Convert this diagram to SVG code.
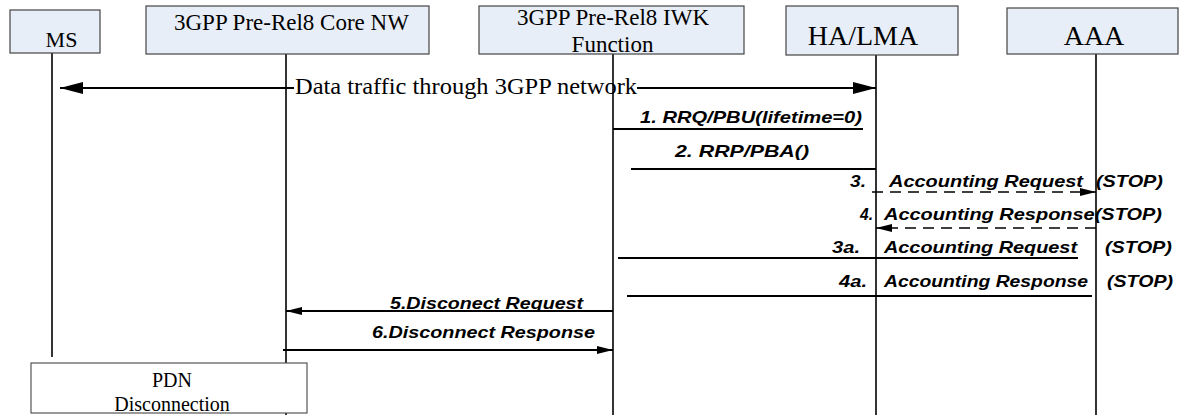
<svg xmlns="http://www.w3.org/2000/svg" width="1179" height="415" viewBox="0 0 1179 415">
<style>
.hdr{fill:#E8EEF7;stroke:#444;stroke-width:1.2}
.t{font-family:"Liberation Serif","Times New Roman",serif;fill:#000}
.lab{font-family:"Liberation Sans",Arial,sans-serif;font-weight:bold;font-style:italic;font-size:17px;fill:#000}
.life{stroke:#000;stroke-width:1.6;fill:none}
.msg{stroke:#000;stroke-width:1.8;fill:none}
.dash{stroke:#000;stroke-width:1.6;fill:none;stroke-dasharray:11,7}
</style>
<defs>
<marker id="ah" markerUnits="userSpaceOnUse" markerWidth="16" markerHeight="8" refX="16" refY="4" orient="auto"><path d="M0,0 L16,4 L0,8 z" fill="#000"/></marker>
<marker id="big" markerUnits="userSpaceOnUse" markerWidth="23" markerHeight="12" refX="23" refY="6" orient="auto"><path d="M0,0 L23,6 L0,12 z" fill="#000"/></marker>
</defs>
<g id="lifelines">
<line class="life" x1="52" y1="53" x2="52" y2="357"/>
<line class="life" x1="286" y1="54" x2="286" y2="415"/>
<line class="life" x1="613" y1="54" x2="613" y2="415"/>
<line class="life" x1="876" y1="55" x2="876" y2="415"/>
<line class="life" x1="1096" y1="54" x2="1096" y2="415"/>
</g>
<g id="node-ms"><rect class="hdr" x="10" y="10" width="90" height="43"/><text class="t" x="61.5" y="47" font-size="22" text-anchor="middle">MS</text></g>
<g id="node-core"><rect class="hdr" x="146" y="6" width="283" height="48"/><text class="t" x="174" y="30" font-size="23" style="font-family:'Liberation Serif',serif">3GPP Pre-Rel8 Core NW</text></g>
<g id="node-iwk"><rect class="hdr" x="479" y="6" width="265" height="48"/><text class="t" x="613" y="25" font-size="23" text-anchor="middle">3GPP Pre-Rel8 IWK</text><text class="t" x="612.5" y="52" font-size="23" text-anchor="middle">Function</text></g>
<g id="node-ha"><rect class="hdr" x="786" y="6" width="172" height="49"/><text class="t" x="863" y="45" font-size="28" text-anchor="middle">HA/LMA</text></g>
<g id="node-aaa"><rect class="hdr" x="1007" y="8" width="171" height="46"/><text class="t" x="1094" y="45" font-size="28" text-anchor="middle">AAA</text></g>
<g id="connectors">
<line class="msg" x1="294" y1="88" x2="60" y2="88" marker-end="url(#big)"/>
<line class="msg" x1="637" y1="88" x2="876" y2="88" marker-end="url(#big)"/>
<text class="t" x="295" y="94" font-size="24" textLength="342" lengthAdjust="spacingAndGlyphs">Data traffic through 3GPP network</text>

<line class="msg" x1="613" y1="129" x2="863" y2="129"/>
<text class="lab" x="640" y="123" textLength="222" lengthAdjust="spacingAndGlyphs">1. RRQ/PBU(lifetime=0)</text>

<line class="msg" x1="631" y1="169" x2="876" y2="169"/>
<text class="lab" x="675" y="157" textLength="134" lengthAdjust="spacingAndGlyphs">2. RRP/PBA()</text>

<line class="dash" x1="872" y1="192" x2="1096" y2="192" marker-end="url(#ah)"/>
<text class="lab" x="850" y="187" textLength="16" lengthAdjust="spacingAndGlyphs">3.</text>
<text class="lab" x="889" y="187" textLength="194" lengthAdjust="spacingAndGlyphs">Accounting Request</text>
<text class="lab" x="1096" y="187" textLength="67" lengthAdjust="spacingAndGlyphs">(STOP)</text>

<line class="dash" x1="1096" y1="228" x2="876" y2="228" marker-end="url(#ah)"/>
<text class="lab" x="860" y="220" textLength="13" lengthAdjust="spacingAndGlyphs">4.</text>
<text class="lab" x="884" y="220" textLength="278" lengthAdjust="spacingAndGlyphs">Accounting Response(STOP)</text>

<line class="msg" x1="618" y1="258" x2="1078" y2="258"/>
<text class="lab" x="832" y="253" textLength="28" lengthAdjust="spacingAndGlyphs">3a.</text>
<text class="lab" x="884" y="253" textLength="193" lengthAdjust="spacingAndGlyphs">Accounting Request</text>
<text class="lab" x="1105" y="253" textLength="67" lengthAdjust="spacingAndGlyphs">(STOP)</text>

<line class="msg" x1="627" y1="296" x2="1092" y2="296"/>
<text class="lab" x="839" y="287" textLength="28" lengthAdjust="spacingAndGlyphs">4a.</text>
<text class="lab" x="884" y="287" textLength="204" lengthAdjust="spacingAndGlyphs">Accounting Response</text>
<text class="lab" x="1107" y="287" textLength="66" lengthAdjust="spacingAndGlyphs">(STOP)</text>

<text class="lab" x="390" y="309" textLength="193" lengthAdjust="spacingAndGlyphs">5.Disconect Request</text>
<line class="msg" x1="613" y1="311" x2="286" y2="311" marker-end="url(#ah)"/>

<text class="lab" x="372" y="338" textLength="223" lengthAdjust="spacingAndGlyphs">6.Disconnect Response</text>
<line class="msg" x1="283" y1="350" x2="613" y2="350" marker-end="url(#ah)"/>
</g>
<g id="node-pdn"><rect x="31" y="363" width="276" height="50" fill="#fff" stroke="#555" stroke-width="1.2"/><text class="t" x="172" y="387" font-size="20" text-anchor="middle">PDN</text><text class="t" x="172" y="411" font-size="20" text-anchor="middle">Disconnection</text></g>
</svg>
